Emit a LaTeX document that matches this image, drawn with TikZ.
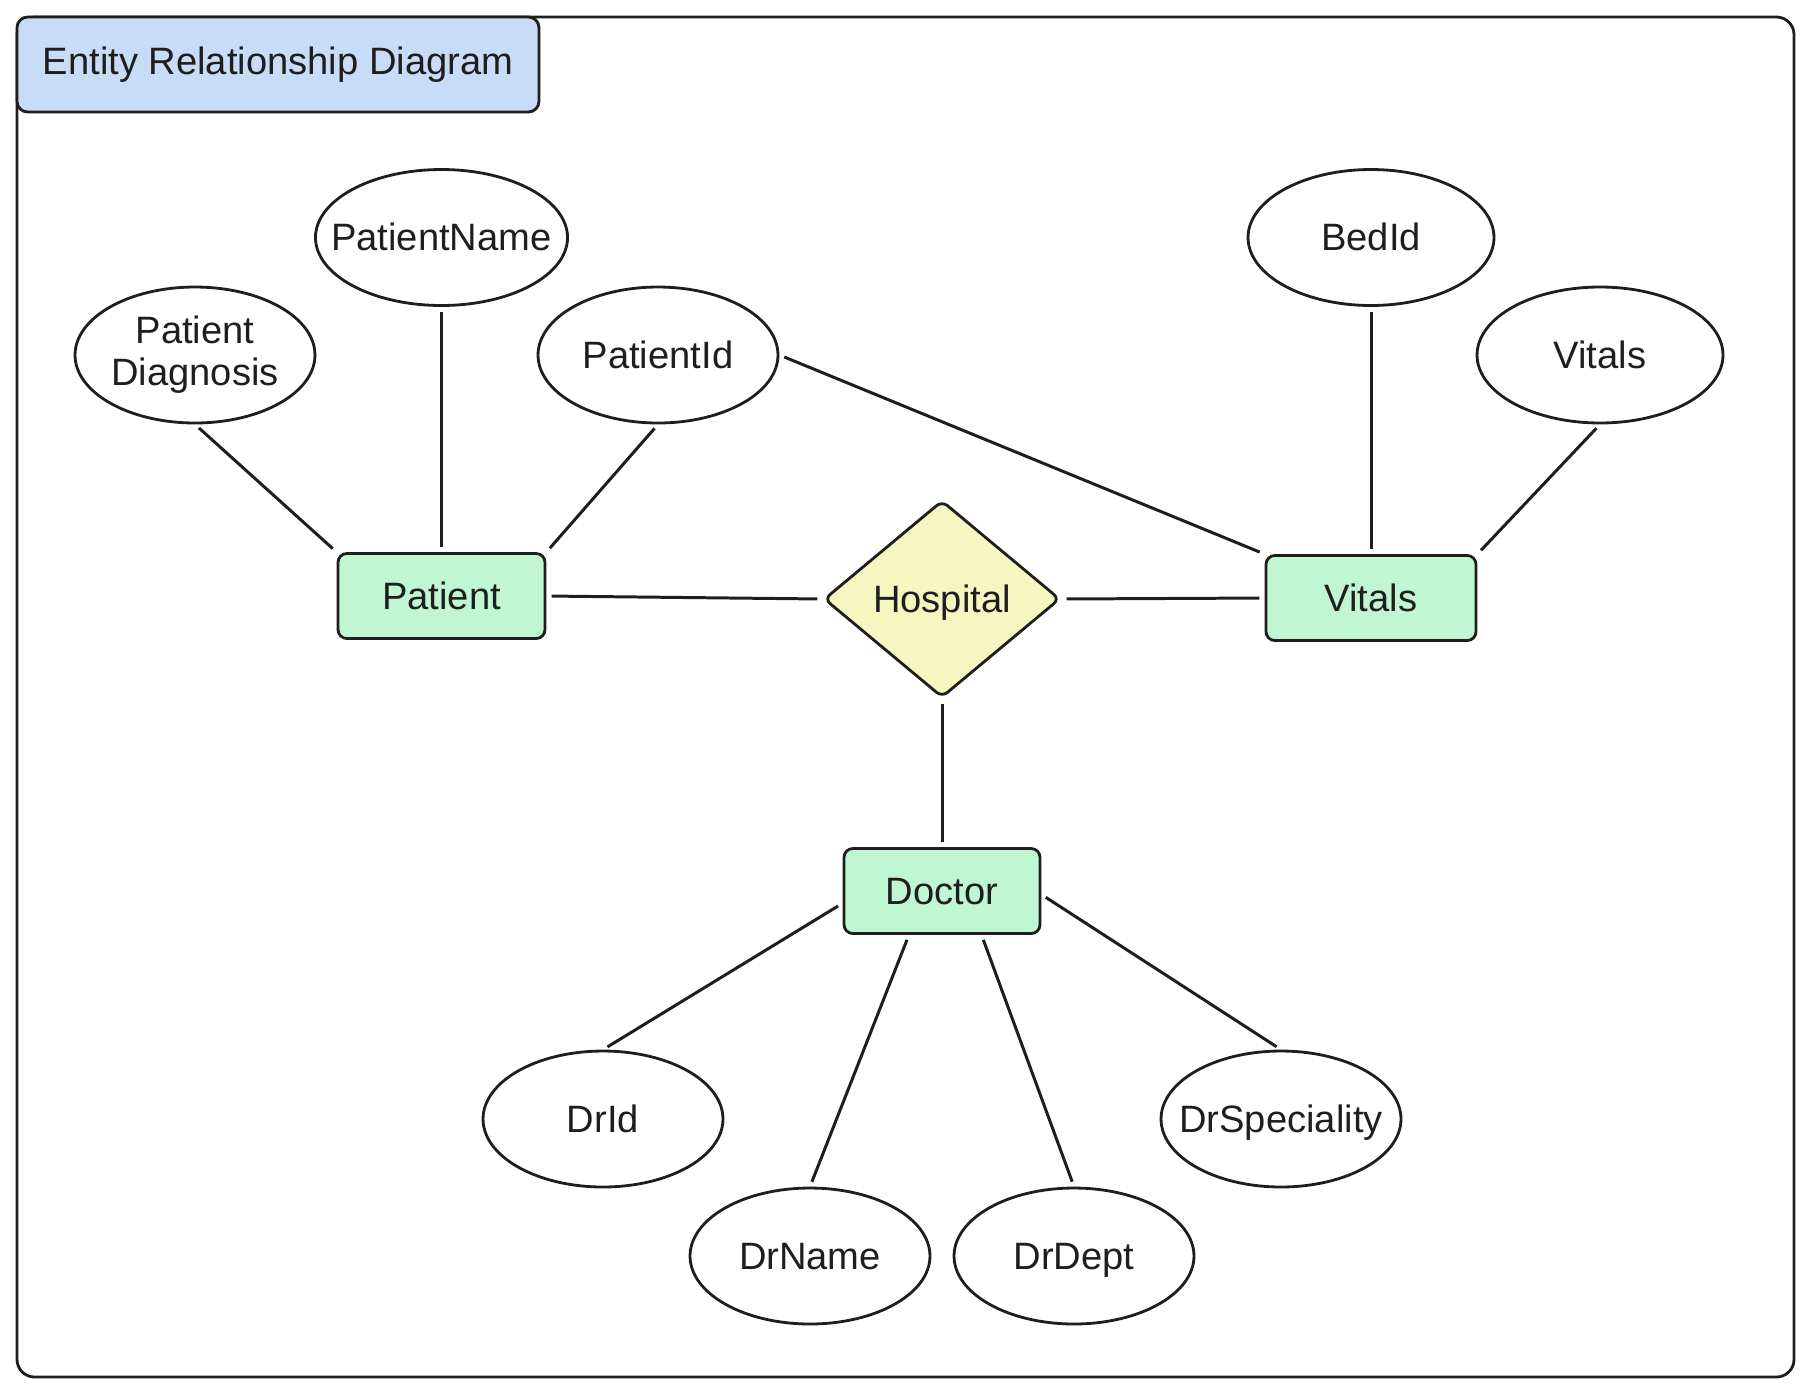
\documentclass[tikz,border=0pt]{standalone}
\usepackage{fontspec}
\setmainfont{Liberation Sans}
\usetikzlibrary{shapes.geometric,positioning,calc}
\definecolor{entfill}{HTML}{C0F6D2}
\definecolor{relfill}{HTML}{F6F7C0}
\definecolor{titlefill}{HTML}{C8DCF8}
\definecolor{ink}{HTML}{1E1E1E}
\tikzset{ent/.style={draw=ink,fill=entfill,rectangle,rounded corners=5pt,line
width=1.6pt,minimum height=1.7cm,inner sep=0pt,text=ink,text height=17.5pt,text depth=2.5pt},rel/.style={draw=ink,fill=relfill,diamond,rounded
corners=4pt,line width=1.6pt,minimum width=4.72cm,minimum height=3.94cm,inner sep=0pt,text=ink,text height=17.5pt,text depth=2.5pt},
attr/.style={draw=ink,ellipse,line width=1.6pt,minimum width=4.8cm,minimum height=2.72cm,inner
sep=-12pt,text=ink,align=center,text height=17.5pt,text depth=2.5pt},link/.style={draw=ink,line width=1.7pt,shorten <=3pt,shorten >=3pt},
titlebox/.style={draw=ink,fill=titlefill,rectangle,rounded corners=6pt,line width=1.6pt,minimum
width=10.44cm,minimum height=1.9cm,inner sep=0pt,text=ink}}

\begin{document}
\begin{tikzpicture}[x=0.02cm,y=-0.02cm,font=\fontsize{21.7}{24}\selectfont]
		\useasboundingbox (0,0) rectangle (1817,1397);
		\draw[ink,line width=1.6pt,rounded corners=10pt] (17,17) rectangle (1794,1377);
		\node[titlebox] (title) at (278,64.5) {Entity Relationship Diagram};
		% entities and relation
		\node[ent,minimum width=4.14cm] (patient) at (441.5,596) {Patient};
		\node[rel] (hospital) at (942,599) {Hospital};
		\node[ent,minimum width=4.2cm] (vitals) at (1371,598) {Vitals};
		\node[ent,minimum width=3.92cm] (doctor) at (942,891) {Doctor};
		% attributes
		\node[attr,text height={},text depth={}] (pdiag) at (195,355) {Patient\\Diagnosis};
		\node[attr,minimum width=5.04cm] (pname) at (441.5,237.5) {PatientName};
		\node[attr] (pid) at (658,355) {PatientId};
		\node[attr,minimum width=4.92cm] (bedid) at (1371,237.5) {BedId};
		\node[attr,minimum width=4.92cm] (vitalsattr) at (1600,355) {Vitals};
		\node[attr] (drid) at (603,1119) {DrId};
		\node[attr] (drname) at (810,1256) {DrName};
		\node[attr] (drdept) at (1074,1256) {DrDept};
		\node[attr] (drspec) at (1281,1119) {DrSpeciality};
		% links
		\draw[link] (pdiag.south) -- (patient.north west);
		\draw[link] (pname.south) -- (patient.north);
		\draw[link] (pid.south) -- (patient.north east);
		\draw[link] (pid.east) -- (vitals.north west);
		\draw[link] (bedid.south) -- (vitals.north);
		\draw[link] (vitalsattr.south) -- (vitals.north east);
		\draw[link] (patient.east) -- (hospital.west);
		\draw[link] (hospital.east) -- (vitals.west);
		\draw[link] (hospital.south) -- (doctor.north);
		\draw[link] (doctor.187) -- (drid.north);
		\draw[link] (doctor.233) -- (drname.north);
		\draw[link] (doctor.312) -- (drdept.north);
		\draw[link] (doctor.358) -- (drspec.north);
	\end{tikzpicture}
\end{document}
